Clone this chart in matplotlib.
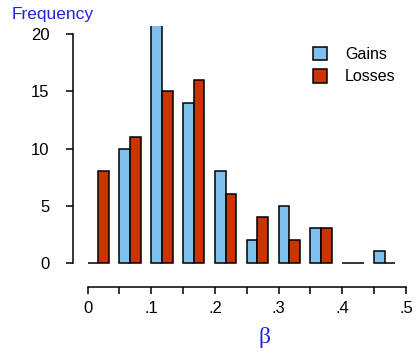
import numpy as np
import matplotlib
matplotlib.use('Agg')
import matplotlib.pyplot as plt

# histogram of beta, bins of width .05
bin_starts = [0, .05, .1, .15, .2, .25, .3, .35, .4, .45]
gains = [0, 10, 21, 14, 8, 2, 5, 3, 0, 1]
losses = [8, 11, 15, 16, 6, 4, 2, 3, 0, 0]
xticks = [0, .05, .1, .15, .2, .25, .3, .35, .4, .45, .5]
xlabels = ['0', '', '.1', '', '.2', '', '.3', '', '.4', '', '.5']
yticks = [0, 5, 10, 15, 20]

plt.rcParams['font.family'] = ['Liberation Sans', 'DejaVu Sans']

fig = plt.figure(figsize=(4.18, 3.53), dpi=100)
ax = fig.add_axes([73/418, 66.3/353, 333/418, 260.7/353])

w = 0.05 / 3
x = np.array(bin_starts)
ax.bar(x, gains, width=w, align='edge', color='#7fc0ec', edgecolor='black', linewidth=1.1, label='Gains')
ax.bar(x + w, losses, width=w, align='edge', color='#cc3300', edgecolor='black', linewidth=1.1, label='Losses')

ax.set_xlim(-0.023, 0.5)
ax.set_ylim(-2.1, 20.73)
ax.spines['top'].set_visible(False)
ax.spines['right'].set_visible(False)
ax.spines['left'].set_bounds(0, 20)
ax.spines['bottom'].set_bounds(0, 0.5)
for s in ['left', 'bottom']:
    ax.spines[s].set_linewidth(1.1)

ax.set_xticks(xticks)
ax.set_xticklabels(xlabels)
ax.set_yticks(yticks)
ax.tick_params(axis='both', length=5, width=1.1, labelsize=12)
ax.tick_params(axis='y', pad=12)
ax.tick_params(axis='x', pad=5)

fig.text(12/418, 1 - 14/353, 'Frequency', color='#2222dd', fontsize=12.5, va='center', ha='left')
fig.text(264/418, 1 - 338/353, 'β', color='#2222dd', fontsize=17, va='center', ha='center',
         family=['Liberation Serif', 'DejaVu Serif'])

ax.legend(loc='upper left', bbox_to_anchor=(313/418, 1 - 47/353), bbox_transform=fig.transFigure,
          frameon=False, fontsize=11.5, handlelength=0.9, handleheight=0.9, handletextpad=1.1,
          labelspacing=0.45, borderaxespad=0, borderpad=0)

fig.savefig('out.png', dpi=100)
